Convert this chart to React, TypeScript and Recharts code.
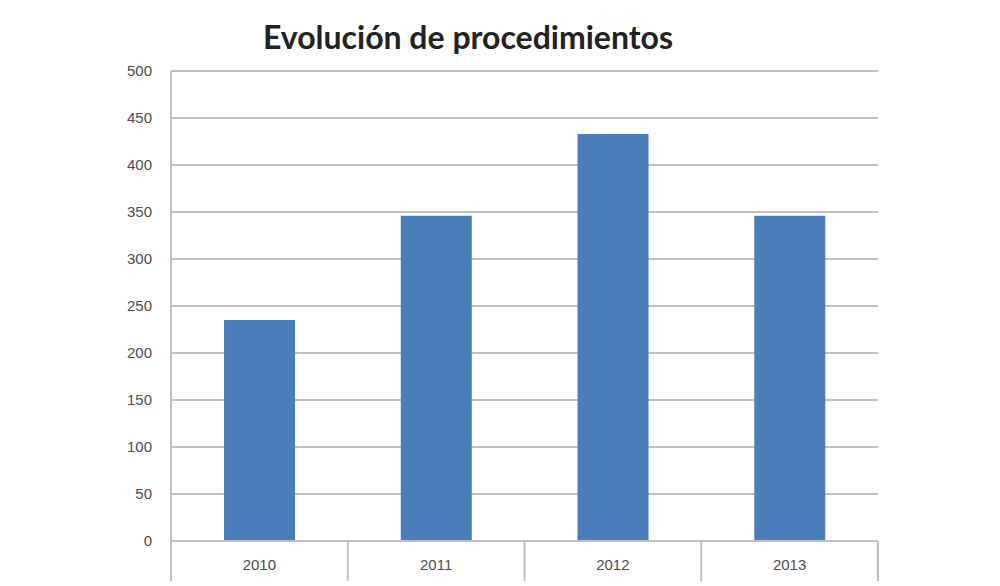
import { Bar, BarChart, CartesianGrid, XAxis, YAxis } from "recharts"

const years = ["2010", "2011", "2012", "2013"]
const procedimientos = [235, 346, 433, 346]
const yTicks = [0, 50, 100, 150, 200, 250, 300, 350, 400, 450, 500]

const data = years.map((year, i) => ({ year, value: procedimientos[i] }))

const gridColor = "#c0c0c0"
const labelColor = "#4d4d4d"

// category label plus the separator lines at the band edges (Excel style)
const YearTick = (props: any) => {
  const { x, y, payload, index, visibleTicksCount } = props
  const half = payload?.offset ?? 0
  const top = y - 24
  const bottom = y + 16
  return (
    <g>
      <line x1={x - half} x2={x - half} y1={top} y2={bottom} stroke={gridColor} strokeWidth={2} />
      {index === visibleTicksCount - 1 && (
        <line x1={x + half} x2={x + half} y1={top} y2={bottom} stroke={gridColor} strokeWidth={2} />
      )}
      <text
        x={x}
        y={y}
        dy="0.35em"
        textAnchor="middle"
        fontSize={15}
        fill={labelColor}
        fontFamily="'Liberation Sans', sans-serif"
      >
        {payload.value}
      </text>
    </g>
  )
}

export default function App() {
  return (
    <div style={{ position: "absolute", left: 0, top: 0, width: 1000, height: 586, background: "#fff" }}>
      <div
        style={{
          position: "absolute",
          left: 0,
          top: 17,
          width: 936,
          textAlign: "center",
          fontFamily: "Lato, 'Open Sans', sans-serif",
          fontWeight: 700,
          fontSize: 32,
          color: "#222",
        }}
      >
        Evolución de procedimientos
      </div>
      <BarChart
        width={1000}
        height={586}
        data={data}
        margin={{ top: 71, right: 122, bottom: 0, left: 0 }}
        barCategoryGap="30%"
      >
        <CartesianGrid horizontal vertical={false} stroke={gridColor} strokeWidth={2} />
        <XAxis
          dataKey="year"
          height={45}
          axisLine={{ stroke: gridColor, strokeWidth: 2 }}
          tickLine={false}
          tickSize={0}
          tickMargin={24}
          tick={YearTick}
        />
        <YAxis
          width={171}
          domain={[0, 500]}
          ticks={yTicks}
          interval={0}
          axisLine={{ stroke: gridColor, strokeWidth: 2 }}
          tickLine={false}
          tickSize={0}
          tickMargin={19}
          tick={{ fontSize: 15, fill: labelColor, fontFamily: "'Liberation Sans', sans-serif" }}
        />
        <Bar dataKey="value" fill="#4a7ebb" isAnimationActive={false} />
      </BarChart>
    </div>
  )
}
